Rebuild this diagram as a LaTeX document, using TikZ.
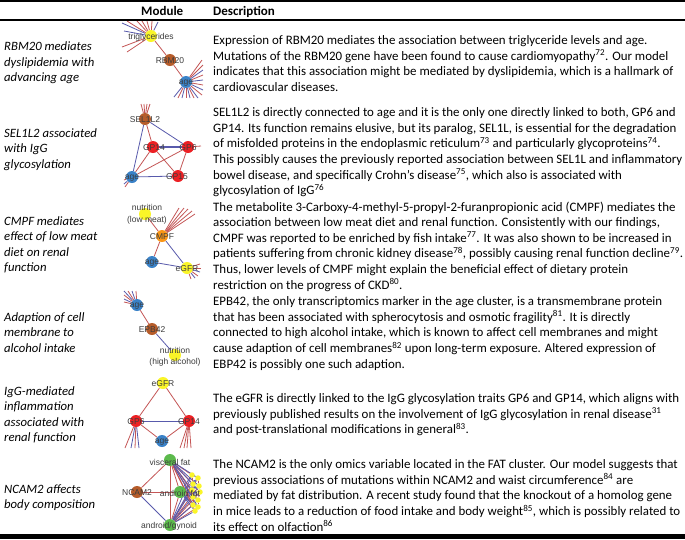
\documentclass[tikz,border=0pt]{standalone}
\usepackage{fontspec}
\setmainfont{Carlito}
\newfontfamily\netfont{Liberation Sans}
\definecolor{ered}{RGB}{196,86,86}
\definecolor{eblue}{RGB}{88,90,172}
\definecolor{nyel}{RGB}{250,245,40}
\definecolor{nbrown}{RGB}{182,92,42}
\definecolor{nblue}{RGB}{58,130,200}
\definecolor{nred}{RGB}{236,32,36}
\definecolor{norange}{RGB}{250,150,22}
\definecolor{ngreen}{RGB}{92,186,76}
\definecolor{labgray}{RGB}{60,60,60}
\pgfdeclarelayer{bg}
\pgfdeclarelayer{edges}
\pgfsetlayers{bg,edges,main}
\tikzset{
  er/.style={draw=ered,line width=0.8pt},
  eb/.style={draw=eblue,line width=0.8pt},
  nd/.style={circle,inner sep=0pt,minimum size=12pt,draw=none},
  sd/.style={circle,inner sep=0pt,minimum size=5.5pt,draw=none,fill=nyel},
  lab/.style={inner sep=0pt,font=\netfont\fontsize{8.5}{11.5}\selectfont,text=labgray,align=center},
  desc/.style={anchor=base west,inner sep=0pt,font=\fontsize{12.9}{15}\selectfont},
  lft/.style={anchor=base west,inner sep=0pt,font=\fontsize{12.7}{15}\selectfont\itshape},
  hd/.style={anchor=base west,inner sep=0pt,font=\fontsize{13}{15}\selectfont\bfseries}
}
\newcommand\netstubs[2]{%
  \foreach \sx/\sy/\ss [count=\k] in {#2} {%
    \coordinate (#1-s\k) at (\sx,\sy);
    \draw[\ss] (#1) -- (#1-s\k);}}
\begin{document}
\begin{tikzpicture}[x=1pt,y=-1pt]
\useasboundingbox (0,0) rectangle (685,539);
\begin{pgfonlayer}{bg}
\fill[white] (0,0) rectangle (685,539);
\end{pgfonlayer}
% rules
\fill[black] (0,0) rectangle (685,2);
\fill[black] (0,19.3) rectangle (685,20.6);
\fill[black] (0,534) rectangle (685,539);
% header
\node[hd] (hmod) at (141,15) {Module};
\node[hd] (hdesc) at (213,15) {Description};

% ---------- descriptions ----------
\foreach \t [count=\i from 0] in {
 {Expression of RBM20 mediates the association between triglyceride levels and age.},
 {Mutations of the RBM20 gene have been found to cause cardiomyopathy\textsuperscript{72}. Our model},
 {indicates that this association might be mediated by dyslipidemia, which is a hallmark of},
 {cardiovascular diseases.}}
 {\node[desc] (da\i) at (213,{44.5+15.65*\i}) {\t};}
\foreach \t [count=\i from 0] in {
 {SEL1L2 is directly connected to age and it is the only one directly linked to both, GP6 and},
 {GP14. Its function remains elusive, but its paralog, SEL1L, is essential for the degradation},
 {of misfolded proteins in the endoplasmic reticulum\textsuperscript{73} and particularly glycoproteins\textsuperscript{74}.},
 {This possibly causes the previously reported association between SEL1L and inflammatory},
 {bowel disease, and specifically Crohn’s disease\textsuperscript{75}, which also is associated with},
 {glycosylation of IgG\textsuperscript{76}}}
 {\node[desc] (db\i) at (213,{116.5+15.65*\i}) {\t};}
\foreach \t [count=\i from 0] in {
 {The metabolite 3-Carboxy-4-methyl-5-propyl-2-furanpropionic acid (CMPF) mediates the},
 {association between low meat diet and renal function. Consistently with our findings,},
 {CMPF was reported to be enriched by fish intake\textsuperscript{77}. It was also shown to be increased in},
 {patients suffering from chronic kidney disease\textsuperscript{78}, possibly causing renal function decline\textsuperscript{79}.},
 {Thus, lower levels of CMPF might explain the beneficial effect of dietary protein},
 {restriction on the progress of CKD\textsuperscript{80}.}}
 {\node[desc] (dc\i) at (213,{211+15.65*\i}) {\t};}
\foreach \t [count=\i from 0] in {
 {EPB42, the only transcriptomics marker in the age cluster, is a transmembrane protein},
 {that has been associated with spherocytosis and osmotic fragility\textsuperscript{81}. It is directly},
 {connected to high alcohol intake, which is known to affect cell membranes and might},
 {cause adaption of cell membranes\textsuperscript{82} upon long-term exposure. Altered expression of},
 {EBP42 is possibly one such adaption.}}
 {\node[desc] (dd\i) at (213,{305.5+15.65*\i}) {\t};}
\foreach \t [count=\i from 0] in {
 {The eGFR is directly linked to the IgG glycosylation traits GP6 and GP14, which aligns with},
 {previously published results on the involvement of IgG glycosylation in renal disease\textsuperscript{31}},
 {and post-translational modifications in general\textsuperscript{83}.}}
 {\node[desc] (de\i) at (213,{402.5+15.65*\i}) {\t};}
\foreach \t [count=\i from 0] in {
 {The NCAM2 is the only omics variable located in the FAT cluster. Our model suggests that},
 {previous associations of mutations within NCAM2 and waist circumference\textsuperscript{84} are},
 {mediated by fat distribution. A recent study found that the knockout of a homolog gene},
 {in mice leads to a reduction of food intake and body weight\textsuperscript{85}, which is possibly related to},
 {its effect on olfaction\textsuperscript{86}}}
 {\node[desc] (df\i) at (213,{468.5+15.65*\i}) {\t};}

% ---------- left column ----------
\foreach \t [count=\i from 0] in {RBM20 mediates,dyslipidemia with,advancing age}
 {\node[lft] (la\i) at (4,{50.5+15.6*\i}) {\t};}
\foreach \t [count=\i from 0] in {SEL1L2 associated,with IgG,glycosylation}
 {\node[lft] (lb\i) at (4,{137+15.6*\i}) {\t};}
\foreach \t [count=\i from 0] in {CMPF mediates,effect of low meat,diet on renal,function}
 {\node[lft] (lc\i) at (4,{225+15.6*\i}) {\t};}
\foreach \t [count=\i from 0] in {Adaption of cell,membrane to,alcohol intake}
 {\node[lft] (ld\i) at (4,{321+15.6*\i}) {\t};}
\foreach \t [count=\i from 0] in {IgG-mediated,inflammation,associated with,renal function}
 {\node[lft] (le\i) at (4,{395+15.6*\i}) {\t};}
\foreach \t [count=\i from 0] in {NCAM2 affects,body composition}
 {\node[lft] (lf\i) at (4,{493+15.6*\i}) {\t};}

% ---------- network nodes ----------
% net 1
\node[nd,fill=nyel] (trig) at (151,36) {};
\node[nd,fill=nbrown] (rbm) at (170,60) {};
\node[nd,fill=nblue] (ageA) at (186,82) {};
% net 2
\node[nd,fill=nbrown] (sel) at (145,119) {};
\node[nd,fill=nred] (gpf) at (153,147) {};
\node[nd,fill=nred] (gps) at (188,147) {};
\node[nd,fill=nblue] (ageB) at (132,177) {};
\node[nd,fill=nred] (gpt) at (178,176) {};
% net 3
\node[nd,fill=nyel] (nutA) at (145,214) {};
\node[nd,fill=norange] (cmpf) at (162,236) {};
\node[nd,fill=nblue] (ageC) at (152,262) {};
\node[nd,fill=nyel] (egfrA) at (187,268) {};
% net 4
\node[nd,fill=nblue] (ageD) at (137,305) {};
\node[nd,fill=nbrown] (epb) at (152,329) {};
\node[nd,fill=nyel] (nutB) at (175,355) {};
% net 5
\node[nd,fill=nyel] (egfrB) at (163,383) {};
\node[nd,fill=nred] (gpsB) at (136,421) {};
\node[nd,fill=nred] (gpfB) at (189,421) {};
\node[nd,fill=nblue] (ageE) at (162,441) {};
% net 6
\node[nd,fill=ngreen] (visc) at (170,460) {};
\node[nd,fill=nbrown] (ncam) at (137,492) {};
\node[nd,fill=ngreen] (andf) at (180,492) {};
\node[nd,fill=ngreen] (andg) at (170,525) {};
\foreach \px/\py [count=\j] in {192/475,198/478,193/484,199/486,192/490,200/492,193/497,198/500,193/505,198/507,195/511}
  {\node[sd] (yy\j) at (\px,\py) {};}

% ---------- edges ----------
\begin{pgfonlayer}{edges}
% net 1
\draw[er] (trig) -- (rbm);
\draw[er] (rbm) -- (ageA);
\netstubs{trig}{122/23/eb,127/21/er,137/21/er,142/21/er,147/21/er,152/21/er,158/22/eb,122/47/er,127/52/er,124/31/eb}
\netstubs{ageA}{202/60/er,203/65/er,203/70/eb,203/75/er,203/80/eb,203/85/er,203/90/eb,202/95/er,198/98/eb,194/98/er,190/98/eb,186/98/er,182/98/eb,178/98/er,174/97/eb}
% net 2
\draw[eb] (sel) -- (gps);
\draw[er] (sel) -- (gpf);
\draw[eb] (sel) -- (ageB);
\draw[eb,line width=1.3pt] (gpf) -- (gps);
\draw[er] (gpf) -- (ageB);
\draw[er] (gpf) -- (gpt);
\draw[er] (gps) -- (ageB);
\draw[er] (gps) -- (gpt);
\draw[eb] (ageB) -- (gpt);
\netstubs{sel}{141/104/er,144/104/er,147/104/er,150/104/er}
\netstubs{gps}{201/146/er}
\netstubs{ageB}{124/180/er,124/184/eb,125/187/er}
% net 3
\draw[er] (nutA) -- (cmpf);
\draw[er] (cmpf) -- (ageC);
\draw[eb] (cmpf) -- (egfrA);
\draw[eb] (ageC) -- (egfrA);
\netstubs{cmpf}{179/208/er,184/208/er,188/209/er,192/211/er,195/214/er}
\netstubs{egfrA}{200/264/er,201/268/er,200/272/eb,198/276/er,195/278/eb,191/279/er}
% net 4
\draw[er] (ageD) -- (epb);
\draw[eb] (epb) -- (nutB);
\netstubs{ageD}{124/291/eb,128/291/er,132/291/eb,136/291/er,124/295/er,124/299/eb,124/302/er}
% net 5
\draw[er] (egfrB) -- (gpsB);
\draw[er] (egfrB) -- (gpfB);
\draw[eb] (gpsB) -- (gpfB);
\draw[er] (gpsB) -- (ageE);
\draw[er] (gpfB) -- (ageE);
\netstubs{gpsB}{125/448/er,131/448/eb,135/448/er,139/448/eb}
\netstubs{gpfB}{180/448/er,184/448/er,187/448/er,191/448/er}
% net 6
\draw[er] (ncam) -- (visc);
\draw[er] (ncam) -- (andf);
\draw[eb] (ncam) -- (andg);
\draw[er] (visc) -- (andg);
\draw[er] (visc) -- (andf);
\draw[er] (andf) -- (andg);
\foreach \j in {1,...,11} {
  \pgfmathtruncatemacro\parity{mod(\j,2)}
  \ifnum\parity=0 \draw[eb] (visc) -- (yy\j); \draw[er] (andg) -- (yy\j);
  \else \draw[er] (visc) -- (yy\j); \draw[eb] (andg) -- (yy\j); \fi
  \draw[eb] (andf) -- (yy\j);
}
\foreach \j [evaluate=\j as \n using int(\j+1)] in {1,...,10} {\draw[eb] (yy\j) -- (yy\n);}
\foreach \j [evaluate=\j as \n using int(\j+2)] in {1,...,9} {\draw[er] (yy\j) -- (yy\n);}
\end{pgfonlayer}

% ---------- labels ----------
\node[lab] (trig-l) at (151,37) {triglycerides};
\node[lab] (rbm-l) at (170,61) {RBM20};
\node[lab] (ageA-l) at (186,83) {age};
\node[lab] (sel-l) at (145,120) {SEL1L2};
\node[lab] (gpf-l) at (154,148) {GP14};
\node[lab] (gps-l) at (188,148) {GP6};
\node[lab] (ageB-l) at (132,178) {age};
\node[lab] (gpt-l) at (177,177) {GP15};
\node[lab] (nutA-l) at (147,214.5) {nutrition\\(low meat)};
\node[lab] (cmpf-l) at (162,237) {CMPF};
\node[lab] (ageC-l) at (152,263) {age};
\node[lab] (egfrA-l) at (187,269) {eGFR};
\node[lab] (ageD-l) at (137,306) {age};
\node[lab] (epb-l) at (152,330) {EPB42};
\node[lab] (nutB-l) at (175,357) {nutrition\\(high alcohol)};
\node[lab] (egfrB-l) at (163,384) {eGFR};
\node[lab] (gpsB-l) at (136,422) {GP6};
\node[lab] (gpfB-l) at (189,422) {GP14};
\node[lab] (ageE-l) at (162,442) {age};
\node[lab] (visc-l) at (170,462) {visceral fat};
\node[lab] (ncam-l) at (137,493) {NCAM2};
\node[lab] (andf-l) at (180,493) {android fat};
\node[lab] (andg-l) at (169,526) {android/gynoid};
\end{tikzpicture}
\end{document}
